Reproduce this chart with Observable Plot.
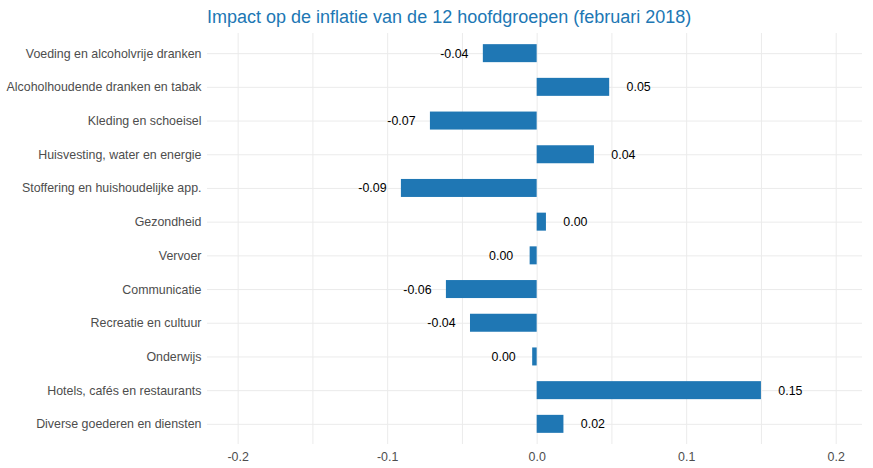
<!DOCTYPE html>
<html>
<head>
<meta charset="utf-8">
<script src="https://cdn.jsdelivr.net/npm/d3@7"></script>
<script src="https://cdn.jsdelivr.net/npm/@observablehq/plot@0.6"></script>
<style>
  html, body { margin: 0; padding: 0; background: #fff; }
  #title { height: 33px; width: 873px; position: relative; font-family: "Liberation Sans", Arial, sans-serif; }
  #title span { position: absolute; left: 207px; top: 8px; line-height: 1; white-space: nowrap; font-size: 18px; color: #2077b4; }
</style>
</head>
<body>
<div id="title"><span>Impact op de inflatie van de 12 hoofdgroepen (februari 2018)</span></div>
<div id="chart"></div>
<script>
const categories = [
  "Voeding en alcoholvrije dranken",
  "Alcoholhoudende dranken en tabak",
  "Kleding en schoeisel",
  "Huisvesting, water en energie",
  "Stoffering en huishoudelijke app.",
  "Gezondheid",
  "Vervoer",
  "Communicatie",
  "Recreatie en cultuur",
  "Onderwijs",
  "Hotels, cafés en restaurants",
  "Diverse goederen en diensten"
];
const impact = [-0.036, 0.0485, -0.0714, 0.0383, -0.0908, 0.0062, -0.0047, -0.0607, -0.0446, -0.003, 0.150, 0.0179];
const valueLabels = ["-0.04", "0.05", "-0.07", "0.04", "-0.09", "0.00", "0.00", "-0.06", "-0.04", "0.00", "0.15", "0.02"];
const xTicks = [-0.2, -0.1, 0, 0.1, 0.2];
const xGrid = [-0.2, -0.15, -0.1, -0.05, 0, 0.05, 0.1, 0.15, 0.2];

const data = categories.map((c, i) => ({category: c, value: impact[i], label: valueLabels[i]}));
const font = "'Liberation Sans', Arial, sans-serif";

const chart = Plot.plot({
  width: 873,
  height: 435,
  marginTop: 0,
  marginBottom: 24,
  marginLeft: 207,
  marginRight: 11,
  style: {fontFamily: font, background: "#fff"},
  x: {domain: [-0.2205, 0.2176]},
  y: {domain: categories, paddingInner: 0.466, paddingOuter: 0.331, round: false, label: null},
  marks: [
    Plot.gridX(xGrid, {stroke: "#ebebeb", strokeOpacity: 1, strokeWidth: 1}),
    Plot.gridY({stroke: "#ebebeb", strokeOpacity: 1, strokeWidth: 1}),
    Plot.barX(data, {x: "value", y: "category", fill: "#1f77b4"}),
    Plot.text(data.filter(d => d.value >= 0), {x: "value", y: "category", text: "label", dx: 29, textAnchor: "middle", fontSize: 12.4, fill: "#000"}),
    Plot.text(data.filter(d => d.value < 0), {x: "value", y: "category", text: "label", dx: -29, textAnchor: "middle", fontSize: 12.4, fill: "#000"}),
    Plot.axisX({ticks: xTicks, tickFormat: d => d.toFixed(1), tickSize: 0, tickPadding: 8, fontSize: 12.4, color: "#4d4d4d", label: null}),
    Plot.axisY({tickSize: 0, tickPadding: 6, fontSize: 12.4, color: "#4d4d4d", label: null})
  ]
});
document.getElementById("chart").appendChild(chart);
</script>
</body>
</html>
